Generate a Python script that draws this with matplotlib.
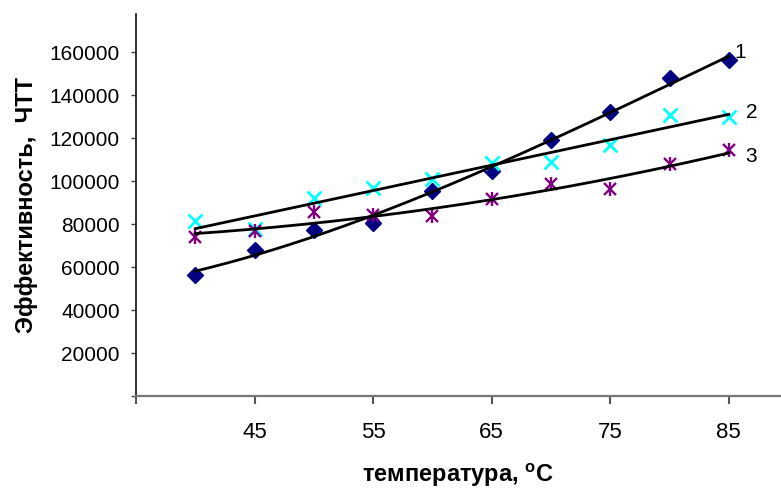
import numpy as np
import matplotlib
matplotlib.use("Agg")
import matplotlib.pyplot as plt

plt.rcParams['font.family'] = ['Liberation Sans', 'DejaVu Sans']
plt.rcParams['mathtext.fontset'] = 'custom'
plt.rcParams['mathtext.rm'] = 'Liberation Sans'
plt.rcParams['mathtext.bf'] = 'Liberation Sans:bold'

# ---- data ----
temperature = [40, 45, 50, 55, 60, 65, 70, 75, 80, 85]
series1 = [56100, 67800, 77200, 80700, 95300, 104700, 119100, 132300, 148000, 156100]
series2 = [81600, 77500, 92200, 96900, 101100, 108600, 108900, 116700, 130800, 130000]
series3 = [73800, 76800, 85400, 84300, 83800, 91700, 98400, 96400, 107800, 114400]
trend_degree = [3, 1, 2]
curve_labels = ["1", "2", "3"]
label_pos = [(86.0, 160000), (86.9, 132100), (86.85, 111600)]
x_ticks = [35, 45, 55, 65, 75, 85]
x_ticklabels = ["", "45", "55", "65", "75", "85"]
y_ticks = [0, 20000, 40000, 60000, 80000, 100000, 120000, 140000, 160000]
y_ticklabels = [""] + [str(v) for v in y_ticks[1:]]

fig = plt.figure(figsize=(7.81, 4.88), dpi=100)
ax = fig.add_axes([136 / 781, (488 - 396) / 488, 1 - 136 / 781, (396 - 14) / 488])

x = np.array(temperature, dtype=float)
xs = np.linspace(40, 85, 200)

# markers
ax.plot(x, series1, linestyle='none', marker='D', markersize=8, color='#000080', zorder=2)
ax.plot(x, series2, linestyle='none', marker='x', markersize=10, markeredgewidth=2.0,
        color='#00FFFF', zorder=2)
ax.plot(x, series3, linestyle='none', marker='x', markersize=9, markeredgewidth=1.7,
        color='#800080', zorder=2)
ax.plot(x, series3, linestyle='none', marker='|', markersize=10, markeredgewidth=1.7,
        color='#800080', zorder=2)

# trend lines
for s, deg in zip((series1, series2, series3), trend_degree):
    c = np.polyfit(x, np.array(s, dtype=float), deg)
    ax.plot(xs, np.polyval(c, xs), color='black', linewidth=2.0, zorder=3)

for lab, (lx, ly) in zip(curve_labels, label_pos):
    ax.text(lx, ly, lab, fontsize=15, ha='center', va='center')

ax.set_xlim(35, 89.4)
ax.set_ylim(0, 177700)
ax.set_xticks(x_ticks)
ax.set_xticklabels(x_ticklabels, fontsize=16)
ax.set_yticks(y_ticks)
ax.set_yticklabels(y_ticklabels, fontsize=15)

ax.spines['top'].set_visible(False)
ax.spines['right'].set_visible(False)
ax.spines['left'].set_color('#222222')
ax.spines['left'].set_linewidth(1.3)
ax.spines['bottom'].set_color('#777777')
ax.spines['bottom'].set_linewidth(1.6)

ax.tick_params(axis='x', direction='out', length=6, width=1.5, color='#555555', pad=13)
ax.tick_params(axis='y', direction='out', length=3.6, width=1.0, color='#444444', pad=8)

ax.set_ylabel('Эффективность,  ЧТТ', fontsize=17, fontweight='bold', labelpad=8)
ax.set_xlabel(r'температура, $^{\mathbf{o}}$C', fontsize=17, fontweight='bold', labelpad=13)

fig.savefig('out.png', dpi=100)
